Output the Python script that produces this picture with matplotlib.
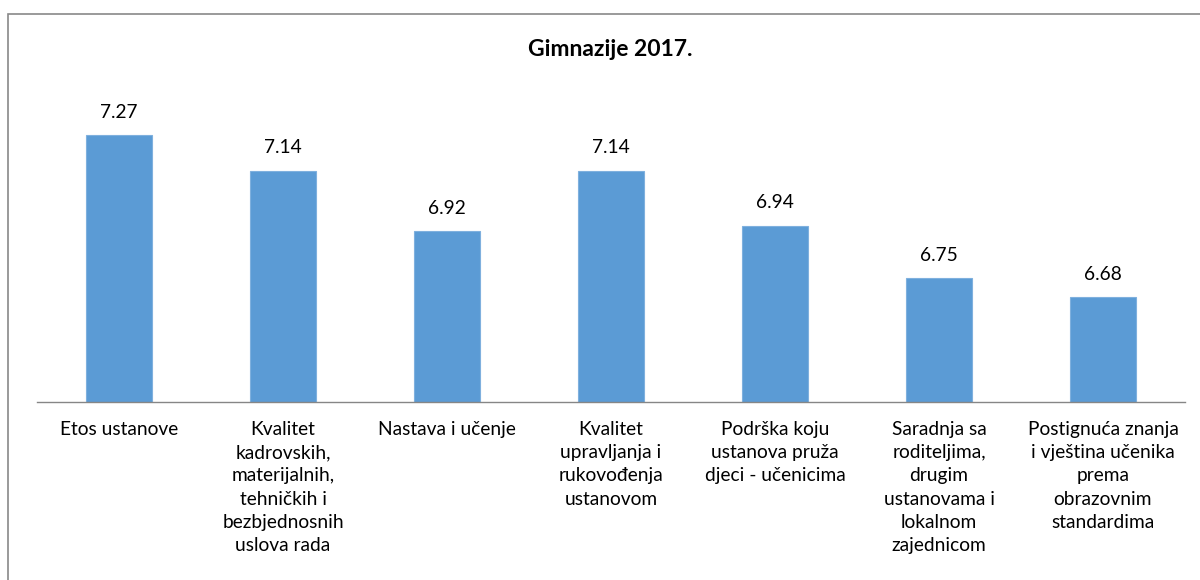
import matplotlib.pyplot as plt
from matplotlib.patches import Rectangle

plt.rcParams["font.family"] = ["Lato", "DejaVu Sans"]

title = "Gimnazije 2017."
categories = [
    "Etos ustanove",
    "Kvalitet\nkadrovskih,\nmaterijalnih,\ntehničkih i\nbezbjednosnih\nuslova rada",
    "Nastava i učenje",
    "Kvalitet\nupravljanja i\nrukovođenja\nustanovom",
    "Podrška koju\nustanova pruža\ndjeci - učenicima",
    "Saradnja sa\nroditeljima,\ndrugim\nustanovama i\nlokalnom\nzajednicom",
    "Postignuća znanja\ni vještina učenika\nprema\nobrazovnim\nstandardima",
]
values = [7.27, 7.14, 6.92, 7.14, 6.94, 6.75, 6.68]

W, H = 1200, 580
fig = plt.figure(figsize=(12, 5.8), dpi=100)
ax = fig.add_axes([37 / W, 1 - 402 / H, (1185 - 37) / W, (402 - 99.4) / H])

x = range(len(values))
bars = ax.bar(x, values, width=0.4, color="#5B9BD5", edgecolor="#7FB0DE", linewidth=0.8)
ax.set_ylim(6.3, 7.4)
ax.set_xlim(-0.5, len(values) - 0.5)

for b, v in zip(bars, values):
    ax.annotate(f"{v:.2f}", (b.get_x() + b.get_width() / 2, v),
                xytext=(0, 10.5), textcoords="offset points",
                ha="center", va="bottom", fontsize=13.8, color="#000000")

ax.set_xticks(list(x))
ax.set_xticklabels(categories, fontsize=13.8, linespacing=1.43, va="top")
ax.tick_params(axis="x", length=0, pad=14)
ax.set_yticks([])
for side in ["left", "right", "top"]:
    ax.spines[side].set_visible(False)
ax.spines["bottom"].set_color("#868686")
ax.spines["bottom"].set_linewidth(1.0)

fig.text(610 / W, 1 - 50 / H, title, ha="center", va="center",
         fontsize=16.5, fontweight="bold")

# chart border
fig.patches.append(Rectangle((8 / W, -0.1), 1.2, 1 - 14 / H + 0.1,
                             transform=fig.transFigure, fill=False,
                             edgecolor="#898989", linewidth=1.2))

fig.savefig("out.png", dpi=100)
